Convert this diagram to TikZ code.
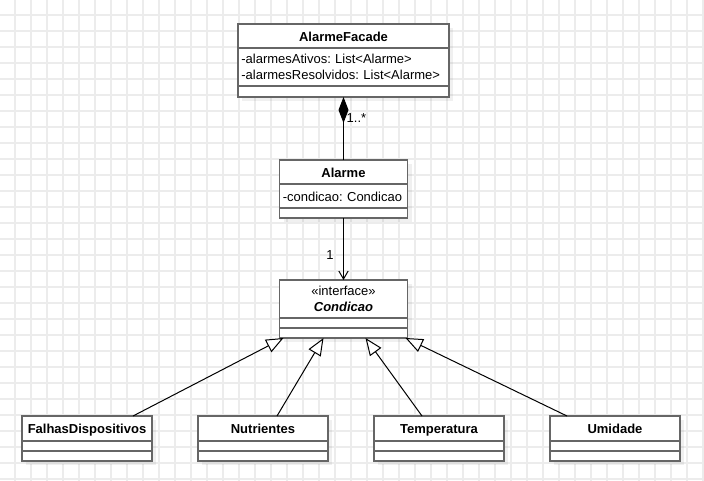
\documentclass[tikz,border=0pt]{standalone}
\usepackage{fontspec}
\setmainfont{Liberation Sans}
\frenchspacing
\usetikzlibrary{positioning, arrows.meta, backgrounds}

\tikzset{
  umlbox/.style={draw=black!60, line width=1.1pt, fill=white, inner xsep=2.5pt, inner ysep=0pt,
    outer sep=0pt, font=\fontsize{9.75}{11.5}\selectfont},
  classname/.style={umlbox, text width=#1, align=center, font=\fontsize{9.75}{11.5}\selectfont\bfseries},
  members/.style={umlbox, text width=#1, align=left},
  oneline/.style={text height=8.5pt, text depth=0.5pt},
  gridline/.style={gray!15, line width=1pt},
  boxshadow/.style={fill=black, opacity=0.06},
  gen/.style={-{Triangle[length=13pt, width=10.5pt, fill=white]}, line width=0.75pt},
  compo/.style={-{Diamond[length=19.5pt, width=7.5pt]}, line width=0.75pt},
  assoc/.style={-{Straight Barb[length=6pt, width=7pt]}, line width=0.75pt},
  mult/.style={font=\fontsize{9.75}{11.5}\selectfont, inner sep=2pt}
}

\begin{document}
\begin{tikzpicture}[x=0.75pt, y=-0.75pt]
    \useasboundingbox (0,0) rectangle (704,481);
    \begin{scope}[on background layer]
        \fill[white] (0,0) rectangle (704,481);
        \foreach \gx in {15,31,...,703} \draw[gridline] (\gx,0) -- (\gx,481);
        \foreach \gy in {15,31,...,479} \draw[gridline] (0,\gy) -- (704,\gy);
    \end{scope}

    % facade
    \node[classname=153.25pt, oneline, minimum height=18pt] (facade) at (343.5,36) {AlarmeFacade};
    \node[members=153.25pt, minimum height=28.5pt, below=0pt of facade] (facadeattr)
        {-alarmesAtivos: List<Alarme>\\-alarmesResolvidos: List<Alarme>};
    \node[members=153.25pt, minimum height=8.25pt, below=0pt of facadeattr] (facadeops) {};

    % alarme
    \node[classname=91pt, oneline, minimum height=18pt, below=47.25pt of facadeops] (alarme) {Alarme};
    \node[members=91pt, oneline, minimum height=18pt, below=0pt of alarme] (alarmeattr) {-condicao: Condicao};
    \node[members=91pt, minimum height=7.5pt, below=0pt of alarmeattr] (alarmeops) {};

    % interface
    \node[classname=91pt, minimum height=28.5pt, below=46.5pt of alarmeops] (condicao)
        {{\mdseries«interface»}\\\textit{Condicao}};
    \node[members=91pt, minimum height=7.5pt, below=0pt of condicao] (condicaoattr) {};
    \node[members=91pt, minimum height=7.5pt, below=0pt of condicaoattr] (condicaoops) {};

    % implementations
    \foreach \nm/\txt/\cx in {falhas/FalhasDispositivos/87, nutrientes/Nutrientes/263,
                              temperatura/Temperatura/439, umidade/Umidade/615} {
        \node[classname=92.5pt, oneline, minimum height=18.75pt, anchor=north] (\nm) at (\cx,416) {\txt};
        \node[members=92.5pt, minimum height=7.5pt, below=0pt of \nm] (\nm attr) {};
        \node[members=92.5pt, minimum height=7.5pt, below=0pt of \nm attr] (\nm ops) {};
    }

    \begin{scope}[on background layer]
        \foreach \nm in {facade, alarme, condicao, falhas, nutrientes, temperatura, umidade}
            \fill[boxshadow] ([shift={(4,4)}]\nm.north west) rectangle ([shift={(4,4)}]\nm ops.south east);
    \end{scope}

    \draw[compo] (alarme.north) -- node[mult, right, pos=0.67] {1..*} (alarme.north |- facadeops.south);
    \draw[assoc] (alarmeops.south) -- node[mult, left=5pt, pos=0.6] {1} (condicao.north);

    \draw[gen] ([xshift=34.5pt]falhas.north) -- ([xshift=-45pt]condicaoops.south);
    \draw[gen] ([xshift=10.5pt]nutrientes.north) -- ([xshift=-15pt]condicaoops.south);
    \draw[gen] ([xshift=-12.75pt]temperatura.north) -- ([xshift=16.5pt]condicaoops.south);
    \draw[gen] ([xshift=-36pt]umidade.north) -- ([xshift=46.5pt]condicaoops.south);
\end{tikzpicture}
\end{document}
